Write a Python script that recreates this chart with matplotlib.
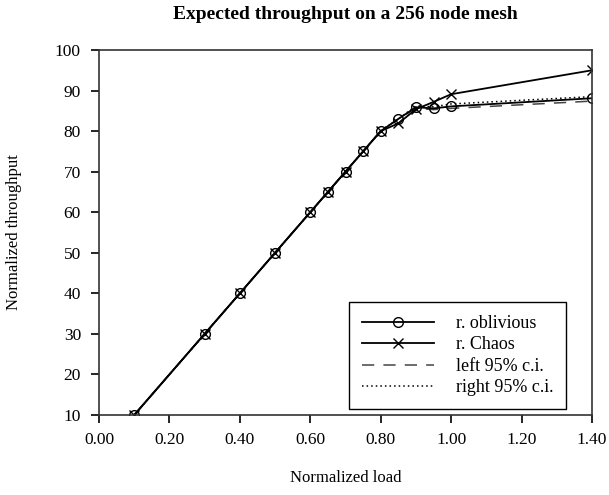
import matplotlib
matplotlib.use("Agg")
import matplotlib.pyplot as plt

plt.rcParams['font.family'] = ['Liberation Serif', 'DejaVu Serif']

load = [0.1, 0.3, 0.4, 0.5, 0.6, 0.65, 0.7, 0.75, 0.8, 0.85, 0.9, 0.95, 1.0, 1.4]
oblivious = [10, 30, 40, 50, 60, 65, 70, 75, 80, 83, 85.9, 85.6, 86.1, 88.1]
chaos = [10, 30, 40, 50, 60, 65, 70, 75, 80, 81.9, 85.4, 87.2, 89.1, 95.0]
left_ci = [10, 30, 40, 50, 60, 65, 70, 75, 80, 83, 85.6, 85.3, 85.6, 87.4]
right_ci = [10, 30, 40, 50, 60, 65, 70, 75, 80, 83, 86.2, 86.0, 86.7, 88.5]

xticks = [0.0, 0.2, 0.4, 0.6, 0.8, 1.0, 1.2, 1.4]
xticklabels = ["0.00", "0.20", "0.40", "0.60", "0.80", "1.00", "1.20", "1.40"]
yticks = [10, 20, 30, 40, 50, 60, 70, 80, 90, 100]

fig = plt.figure(figsize=(6.09, 4.95), dpi=100)
ax = fig.add_axes([99/609, 1-415/495, (592-99)/609, (415-50)/495])

ax.plot(load, left_ci, color='#444444', lw=1.1, ls=(0, (8, 6)), label='left 95% c.i.')
ax.plot(load, right_ci, color='black', lw=1.1, ls=(0, (1, 2)), label='right 95% c.i.')
ax.plot(load, oblivious, color='black', lw=1.3, marker='o', ms=7, mfc='none', mew=1.0, label='r. oblivious')
ax.plot(load, chaos, color='black', lw=1.3, marker='x', ms=7, mew=1.0, label='r. Chaos')

ax.set_xlim(0, 1.4)
ax.set_ylim(10, 100)
ax.set_xticks(xticks)
ax.set_xticklabels(xticklabels)
ax.set_yticks(yticks)
ax.tick_params(direction='out', length=6, width=1.2, labelsize=12.5, colors='black')
ax.tick_params(axis='x', pad=6)
ax.tick_params(axis='y', pad=7)
for s in ax.spines.values():
    s.set_linewidth(1.2)
    s.set_color('#333333')

ax.set_xlabel('Normalized load', fontsize=12, labelpad=16)
ax.set_ylabel('Normalized throughput', fontsize=12, labelpad=24)
ax.set_title('Expected throughput on a 256 node mesh', fontsize=14, fontweight='bold', pad=22)

handles, labels = ax.get_legend_handles_labels()
order = [2, 3, 0, 1]
leg = ax.legend([handles[i] for i in order], [labels[i] for i in order],
                loc='lower right', bbox_to_anchor=(566/609, 1-409/495), bbox_transform=fig.transFigure,
                fontsize=13, fancybox=False, framealpha=1, edgecolor='black',
                handlelength=4.0, handletextpad=1.2, borderpad=0.7, labelspacing=0.25,
                borderaxespad=0)
leg.get_frame().set_linewidth(1.0)

fig.savefig('out.png', dpi=100)
